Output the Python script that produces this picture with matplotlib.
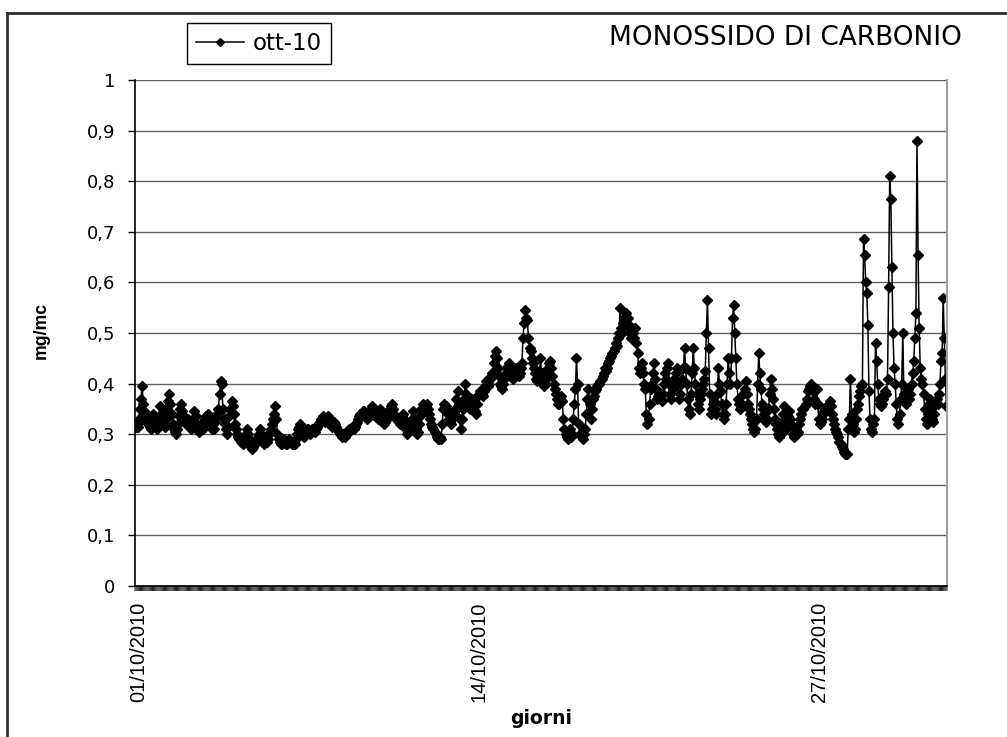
import matplotlib
matplotlib.use('Agg')
import matplotlib.pyplot as plt
import matplotlib.transforms as mtransforms
import numpy as np

plt.rcParams['font.family'] = ['DejaVu Sans']

# valori orari CO (mg/mc), ottobre 2010, una lista per giorno
d01 = [0.315, 0.32, 0.315, 0.33, 0.35, 0.37, 0.395, 0.36, 0.345, 0.335, 0.325, 0.33, 0.32, 0.315, 0.31, 0.325, 0.34, 0.335, 0.33, 0.32, 0.31, 0.315, 0.355, 0.34]
d02 = [0.33, 0.325, 0.32, 0.315, 0.33, 0.35, 0.365, 0.38, 0.36, 0.34, 0.32, 0.31, 0.305, 0.30, 0.31, 0.32, 0.335, 0.35, 0.36, 0.345, 0.335, 0.325, 0.32, 0.33]
d03 = [0.33, 0.325, 0.32, 0.31, 0.315, 0.33, 0.345, 0.335, 0.32, 0.31, 0.305, 0.31, 0.32, 0.315, 0.31, 0.32, 0.33, 0.335, 0.34, 0.335, 0.325, 0.32, 0.31, 0.32]
d04 = [0.31, 0.325, 0.335, 0.34, 0.35, 0.38, 0.405, 0.40, 0.35, 0.33, 0.32, 0.31, 0.30, 0.315, 0.335, 0.35, 0.365, 0.355, 0.34, 0.32, 0.31, 0.30, 0.295, 0.29]
d05 = [0.29, 0.285, 0.28, 0.285, 0.29, 0.30, 0.31, 0.30, 0.29, 0.28, 0.275, 0.27, 0.275, 0.28, 0.285, 0.29, 0.295, 0.30, 0.31, 0.30, 0.29, 0.285, 0.28, 0.285]
d06 = [0.285, 0.29, 0.30, 0.305, 0.31, 0.32, 0.33, 0.34, 0.355, 0.33, 0.30, 0.29, 0.285, 0.28, 0.28, 0.285, 0.29, 0.285, 0.28, 0.28, 0.285, 0.29, 0.285, 0.28]
d07 = [0.28, 0.285, 0.28, 0.29, 0.30, 0.31, 0.315, 0.32, 0.31, 0.30, 0.295, 0.30, 0.305, 0.31, 0.31, 0.305, 0.30, 0.305, 0.31, 0.31, 0.305, 0.31, 0.315, 0.32]
d08 = [0.32, 0.325, 0.33, 0.33, 0.335, 0.33, 0.325, 0.33, 0.335, 0.33, 0.325, 0.32, 0.315, 0.32, 0.325, 0.32, 0.315, 0.31, 0.305, 0.30, 0.30, 0.295, 0.30, 0.30]
d09 = [0.295, 0.30, 0.30, 0.305, 0.31, 0.31, 0.315, 0.31, 0.31, 0.315, 0.32, 0.325, 0.33, 0.335, 0.34, 0.34, 0.345, 0.345, 0.34, 0.335, 0.33, 0.335, 0.34, 0.345]
d10 = [0.35, 0.355, 0.35, 0.345, 0.34, 0.335, 0.33, 0.34, 0.35, 0.345, 0.335, 0.325, 0.32, 0.325, 0.33, 0.335, 0.34, 0.35, 0.355, 0.36, 0.35, 0.34, 0.335, 0.33]
d11 = [0.33, 0.325, 0.32, 0.33, 0.335, 0.34, 0.33, 0.32, 0.31, 0.30, 0.305, 0.315, 0.32, 0.33, 0.345, 0.33, 0.32, 0.31, 0.30, 0.305, 0.32, 0.335, 0.35, 0.36]
d12 = [0.35, 0.345, 0.355, 0.36, 0.35, 0.34, 0.33, 0.32, 0.315, 0.31, 0.305, 0.30, 0.295, 0.29, 0.29, 0.295, 0.29, 0.32, 0.35, 0.36, 0.355, 0.345, 0.34, 0.33]
d13 = [0.325, 0.32, 0.33, 0.335, 0.34, 0.35, 0.37, 0.385, 0.36, 0.33, 0.31, 0.33, 0.35, 0.37, 0.40, 0.38, 0.365, 0.355, 0.35, 0.36, 0.37, 0.365, 0.355, 0.345]
d14 = [0.34, 0.36, 0.375, 0.38, 0.385, 0.38, 0.375, 0.385, 0.395, 0.405, 0.40, 0.395, 0.40, 0.41, 0.415, 0.42, 0.44, 0.455, 0.465, 0.45, 0.43, 0.415, 0.40, 0.395]
d15 = [0.39, 0.40, 0.41, 0.42, 0.43, 0.435, 0.44, 0.43, 0.42, 0.415, 0.41, 0.42, 0.425, 0.43, 0.42, 0.415, 0.42, 0.43, 0.44, 0.49, 0.52, 0.545, 0.53, 0.525]
d16 = [0.49, 0.47, 0.465, 0.45, 0.44, 0.43, 0.42, 0.41, 0.405, 0.41, 0.42, 0.45, 0.42, 0.40, 0.395, 0.40, 0.41, 0.42, 0.43, 0.44, 0.445, 0.43, 0.415, 0.40]
d17 = [0.39, 0.38, 0.37, 0.36, 0.36, 0.37, 0.375, 0.365, 0.33, 0.31, 0.30, 0.295, 0.29, 0.30, 0.31, 0.295, 0.30, 0.33, 0.36, 0.39, 0.45, 0.40, 0.32, 0.30]
d18 = [0.30, 0.295, 0.29, 0.30, 0.31, 0.34, 0.37, 0.39, 0.36, 0.33, 0.35, 0.37, 0.375, 0.385, 0.39, 0.395, 0.40, 0.40, 0.405, 0.41, 0.415, 0.42, 0.43, 0.425]
d19 = [0.43, 0.44, 0.445, 0.45, 0.455, 0.46, 0.465, 0.47, 0.48, 0.475, 0.49, 0.50, 0.55, 0.51, 0.50, 0.52, 0.53, 0.54, 0.52, 0.53, 0.51, 0.50, 0.49, 0.51]
d20 = [0.50, 0.49, 0.51, 0.48, 0.46, 0.43, 0.42, 0.43, 0.44, 0.42, 0.40, 0.39, 0.34, 0.32, 0.33, 0.36, 0.39, 0.40, 0.42, 0.44, 0.41, 0.39, 0.37, 0.375]
d21 = [0.38, 0.37, 0.365, 0.38, 0.40, 0.42, 0.41, 0.43, 0.44, 0.40, 0.38, 0.37, 0.39, 0.41, 0.40, 0.42, 0.43, 0.40, 0.37, 0.38, 0.40, 0.41, 0.43, 0.47]
d22 = [0.43, 0.40, 0.37, 0.35, 0.34, 0.38, 0.42, 0.47, 0.43, 0.40, 0.38, 0.36, 0.35, 0.37, 0.38, 0.39, 0.40, 0.41, 0.425, 0.50, 0.565, 0.47, 0.38, 0.34]
d23 = [0.35, 0.36, 0.365, 0.35, 0.34, 0.38, 0.43, 0.40, 0.385, 0.36, 0.34, 0.33, 0.34, 0.36, 0.40, 0.45, 0.42, 0.40, 0.45, 0.53, 0.555, 0.50, 0.45, 0.40]
d24 = [0.37, 0.36, 0.35, 0.355, 0.36, 0.38, 0.39, 0.405, 0.38, 0.36, 0.35, 0.34, 0.33, 0.32, 0.31, 0.305, 0.31, 0.33, 0.40, 0.46, 0.42, 0.39, 0.36, 0.35]
d25 = [0.34, 0.33, 0.325, 0.33, 0.35, 0.38, 0.41, 0.39, 0.37, 0.35, 0.33, 0.32, 0.31, 0.30, 0.295, 0.30, 0.32, 0.34, 0.355, 0.33, 0.31, 0.32, 0.335, 0.345]
d26 = [0.33, 0.32, 0.30, 0.295, 0.30, 0.31, 0.30, 0.305, 0.32, 0.33, 0.34, 0.35, 0.35, 0.355, 0.36, 0.37, 0.385, 0.39, 0.395, 0.40, 0.39, 0.385, 0.37, 0.36]
d27 = [0.39, 0.36, 0.33, 0.32, 0.325, 0.33, 0.34, 0.345, 0.35, 0.35, 0.355, 0.36, 0.365, 0.355, 0.34, 0.33, 0.32, 0.31, 0.305, 0.30, 0.295, 0.285, 0.28, 0.275]
d28 = [0.27, 0.265, 0.26, 0.26, 0.26, 0.31, 0.33, 0.41, 0.34, 0.32, 0.305, 0.31, 0.33, 0.35, 0.36, 0.375, 0.385, 0.395, 0.40, 0.685, 0.655, 0.60, 0.58, 0.515]
d29 = [0.385, 0.33, 0.31, 0.305, 0.32, 0.33, 0.48, 0.445, 0.40, 0.37, 0.36, 0.355, 0.36, 0.37, 0.38, 0.385, 0.38, 0.41, 0.59, 0.81, 0.765, 0.63, 0.50, 0.43]
d30 = [0.40, 0.36, 0.33, 0.32, 0.34, 0.37, 0.40, 0.50, 0.38, 0.37, 0.36, 0.375, 0.39, 0.37, 0.38, 0.40, 0.42, 0.445, 0.49, 0.54, 0.88, 0.655, 0.51, 0.43]
d31 = [0.41, 0.40, 0.38, 0.35, 0.33, 0.32, 0.34, 0.36, 0.37, 0.35, 0.33, 0.325, 0.34, 0.36, 0.37, 0.36, 0.38, 0.40, 0.445, 0.46, 0.57, 0.49, 0.41, 0.355]

days = [d01, d02, d03, d04, d05, d06, d07, d08, d09, d10, d11, d12, d13, d14, d15, d16,
        d17, d18, d19, d20, d21, d22, d23, d24, d25, d26, d27, d28, d29, d30, d31]
date_labels = ['01/10/2010', '14/10/2010', '27/10/2010']
label_days = [0, 13, 26]
y_ticks = [0, 0.1, 0.2, 0.3, 0.4, 0.5, 0.6, 0.7, 0.8, 0.9, 1]

co = np.concatenate(days)
hours = np.arange(len(co))

W, H = 1007, 737
fig = plt.figure(figsize=(W / 100, H / 100), dpi=100)
ax = fig.add_axes([135 / W, 1 - 586 / H, (947 - 135) / W, (586 - 80) / H])

ax.plot(hours, co, color='black', lw=1.1, marker='D', ms=5,
        mfc='black', mec='black', label='ott-10')

ax.set_xlim(-0.5, len(co) - 0.5)
ax.set_ylim(0, 1)
ax.set_yticks(y_ticks)
ax.set_yticklabels([('%g' % v).replace('.', ',') for v in y_ticks])
ax.yaxis.grid(True, color='#606060', lw=1.0)
ax.set_axisbelow(True)

ax.set_xticks([d * 24 for d in label_days])
ax.set_xticklabels(date_labels, rotation=90, family='Liberation Sans', fontsize=14.5)
ax.tick_params(axis='x', which='major', length=0, pad=11)
ax.tick_params(axis='y', length=5, width=1, labelsize=13, pad=9)
offset = mtransforms.ScaledTranslation(3 / 100, 0, fig.dpi_scale_trans)
for lab in ax.get_xticklabels():
    lab.set_transform(lab.get_transform() + offset)

# tacche orarie sotto l'asse x, senza aggancio ai pixel
tick_tr = mtransforms.blended_transform_factory(ax.transData, ax.transAxes)
ax.vlines(np.arange(-0.5, len(co)), -5 / 506, 0, transform=tick_tr, colors='black',
          lw=0.6, clip_on=False, snap=False, antialiased=True)

ax.spines['top'].set_visible(False)
ax.spines['right'].set_color('#a0a0a0')
ax.spines['right'].set_linewidth(1.5)
ax.spines['left'].set_linewidth(1.2)
ax.spines['bottom'].set_linewidth(1.2)

leg = ax.legend(loc='upper left', bbox_to_anchor=(187 / W, 1 - 22.7 / H),
                bbox_transform=fig.transFigure, borderaxespad=0, fontsize=16.5,
                handlelength=2.1, handletextpad=0.35, borderpad=0.4,
                fancybox=False, edgecolor='black', framealpha=1, markerscale=0.8)
leg.get_frame().set_linewidth(1.0)

fig.text(962 / W, 1 - 38 / H, 'MONOSSIDO DI CARBONIO', ha='right', va='center', fontsize=19)
fig.text(41 / W, 1 - 330 / H, 'mg/mc', rotation=90, ha='center', va='center',
         family='Liberation Sans', fontweight='bold', fontsize=12.7)
fig.text(541 / W, 1 - 718 / H, 'giorni', ha='center', va='center', fontweight='bold', fontsize=13.5)

# cornice del grafico (visibile solo in alto e a sinistra)
fig.add_artist(plt.Line2D([7 / W, 1], [1 - 12.5 / H, 1 - 12.5 / H], color='#303030', lw=2))
fig.add_artist(plt.Line2D([7 / W, 7 / W], [0, 1 - 12.5 / H], color='#303030', lw=2))

fig.savefig('out.png', dpi=100)
